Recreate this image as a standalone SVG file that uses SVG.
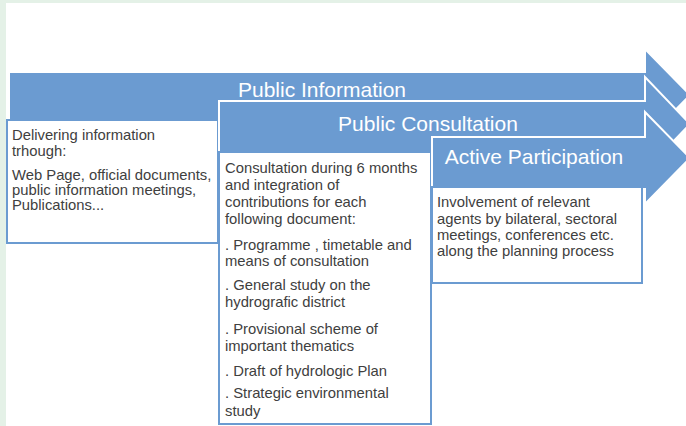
<svg xmlns="http://www.w3.org/2000/svg" width="686" height="426" viewBox="0 0 686 426">
  <style>
    .arrow { fill: #6b9bd1; stroke: #ffffff; stroke-width: 2; stroke-linejoin: miter; }
    .box { fill: #ffffff; stroke: #6b9bd1; stroke-width: 2; }
    .title { font-family: "Liberation Sans", Arial, sans-serif; font-size: 21px; fill: #ffffff; text-anchor: middle; }
    .body { font-family: "Liberation Sans", Arial, sans-serif; font-size: 14.8px; fill: #404040; }
  </style>
  <rect x="0" y="0" width="686" height="426" fill="#e4f1e7"/>
  <rect x="6" y="3" width="680" height="423" fill="#ffffff"/>

  <g id="node-public-information">
    <path class="arrow" d="M 9 72 H 645 V 49 L 690 95 L 645 141 V 122 H 9 Z"/>
    <text class="title" x="322" y="97">Public Information</text>
    <rect class="box" x="7" y="120" width="211" height="123"/>
    <text class="body">
      <tspan x="12" y="140">Delivering information</tspan>
      <tspan x="12" y="156">trhough:</tspan>
      <tspan x="12" y="180">Web Page, official documents,</tspan>
      <tspan x="12" y="195">public information meetings,</tspan>
      <tspan x="12" y="210">Publications...</tspan>
    </text>
  </g>

  <g id="node-public-consultation">
    <path class="arrow" d="M 219 101 H 645 V 77 L 690 124 L 645 171 V 154 H 219 Z"/>
    <text class="title" x="428" y="131">Public Consultation</text>
    <rect class="box" x="219" y="152" width="212" height="272"/>
    <text class="body">
      <tspan x="225" y="173">Consultation during 6 months</tspan>
      <tspan x="225" y="190">and integration of</tspan>
      <tspan x="225" y="207">contributions for each</tspan>
      <tspan x="225" y="224">following document:</tspan>
      <tspan x="225" y="250">. Programme , timetable and</tspan>
      <tspan x="225" y="266">means of consultation</tspan>
      <tspan x="225" y="290">. General study on the</tspan>
      <tspan x="225" y="307">hydrografic district</tspan>
      <tspan x="225" y="334">. Provisional scheme of</tspan>
      <tspan x="225" y="351">important thematics</tspan>
      <tspan x="225" y="376">. Draft of hydrologic Plan</tspan>
      <tspan x="225" y="398">. Strategic environmental</tspan>
      <tspan x="225" y="416">study</tspan>
    </text>
  </g>

  <g id="node-active-participation">
    <path class="arrow" d="M 432 137 H 645 V 112 L 690 158 L 645 204 V 189 H 432 Z"/>
    <text class="title" x="534" y="164">Active Participation</text>
    <rect class="box" x="432" y="187" width="210" height="96"/>
    <text class="body">
      <tspan x="437" y="207">Involvement of relevant</tspan>
      <tspan x="437" y="224">agents by bilateral, sectoral</tspan>
      <tspan x="437" y="240">meetings, conferences etc.</tspan>
      <tspan x="437" y="256">along the planning process</tspan>
    </text>
  </g>
</svg>
